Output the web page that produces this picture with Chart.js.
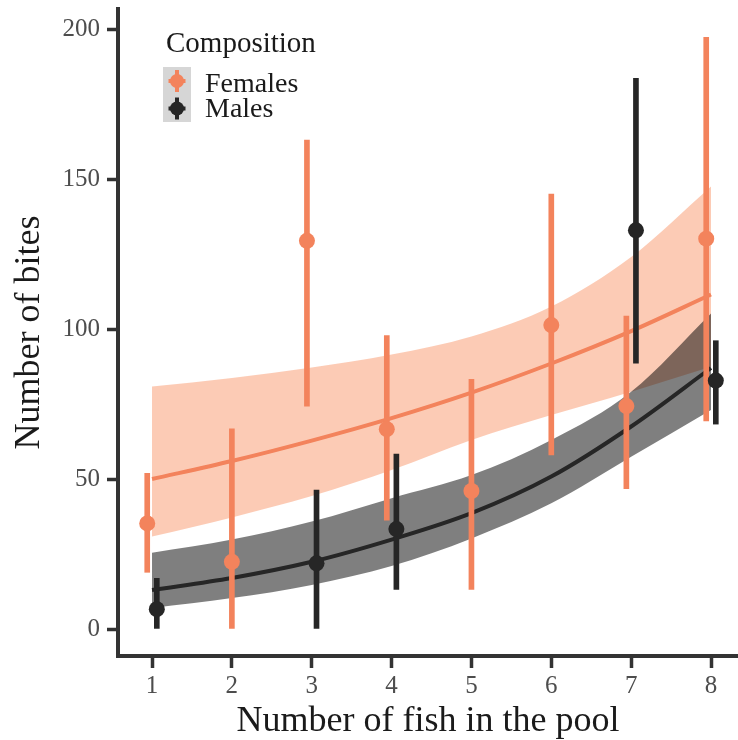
<!DOCTYPE html>
<html>
<head>
<meta charset="utf-8">
<script src="https://cdn.jsdelivr.net/npm/chart.js@4.4.1/dist/chart.umd.min.js"></script>
<style>
  html, body { margin: 0; padding: 0; background: #fff; }
  canvas { display: block; }
</style>
</head>
<body>
<canvas id="biteChart" width="738" height="740"></canvas>
<script>
// fish in the pool (x) and the y ticks
const fishCounts = [1, 2, 3, 4, 5, 6, 7, 8];
const yTickValues = [0, 50, 100, 150, 200];
const groupNames = ['Females', 'Males'];

// female pools: mean bites and interval ends
const femaleFish = [1, 2, 3, 4, 5, 6, 7, 8];
const femaleBites = [35.2, 22.4, 129.4, 66.6, 46, 101.3, 74.3, 130.1];
const femaleLow = [18.9, 0.2, 74.3, 36.3, 13.2, 58, 46.8, 69.4];
const femaleHigh = [51.9, 66.7, 163, 97.8, 83.2, 145, 104.3, 197.2];

// male pools
const maleFish = [1, 3, 4, 7, 8];
const maleBites = [6.6, 21.9, 33.3, 132.9, 82.8];
const maleLow = [0.2, 0.2, 13.2, 88.6, 68.3];
const maleHigh = [16.9, 46.3, 58.3, 183.6, 96.1];

// fitted curves and their bands, read at each fish count
const femaleFit = [50, 56, 62.8, 70.3, 78.8, 88.5, 99.3, 111.5];
const femaleFitLow = [30.8, 37.2, 44.3, 53, 63, 71.3, 79.1, 87.4];
const femaleFitHigh = [80.8, 83.7, 87.2, 91.5, 97.5, 107.5, 124, 147.5];
const maleFit = [13, 17, 22.4, 29.8, 38.6, 50.8, 67.5, 87];
const maleFitLow = [7, 10.3, 14.7, 21, 30.2, 41.9, 57.4, 73];
const maleFitHigh = [25.4, 29.8, 35.8, 43.6, 51.3, 63, 79.1, 105.2];

const ORANGE = '#f3835c';
const DARK = '#262626';
const AXIS = '#333333';

// dodge only where both groups were measured
const dodge = 0.06;
const shared = femaleFish.filter(x => maleFish.includes(x));
const fShift = x => shared.includes(x) ? x - dodge : x;
const mShift = x => shared.includes(x) ? x + dodge : x;

const points = (xs, ys, shift) => xs.map((x, i) => ({ x: shift(x), y: ys[i] }));
const ranges = (xs, lo, hi, shift) => xs.map((x, i) => ({ x: shift(x), y: [lo[i], hi[i]] }));
const curve = ys => fishCounts.map((x, i) => ({ x: x, y: ys[i] }));

Chart.defaults.font.family = '"Liberation Serif", "Times New Roman", serif';

// legend drawn inside the plot, top left
const keyLegend = {
  id: 'keyLegend',
  afterDraw(chart) {
    const ctx = chart.ctx;
    ctx.save();
    ctx.textBaseline = 'alphabetic';
    ctx.fillStyle = '#1a1a1a';
    ctx.font = '29px "Liberation Serif"';
    ctx.fillText('Composition', 166, 52);
    ctx.font = '28px "Liberation Serif"';
    ctx.fillStyle = '#d6d6d6';
    ctx.fillRect(163, 67, 28, 55);
    [ORANGE, DARK].forEach((c, i) => {
      const cx = 177, cy = 81 + i * 27.5;
      ctx.strokeStyle = c;
      ctx.lineWidth = 4;
      ctx.beginPath();
      ctx.moveTo(cx - 8.5, cy); ctx.lineTo(cx + 8.5, cy);
      ctx.moveTo(cx, cy - 11); ctx.lineTo(cx, cy + 11);
      ctx.stroke();
      ctx.fillStyle = c;
      ctx.beginPath();
      ctx.arc(cx, cy, 7, 0, Math.PI * 2);
      ctx.fill();
      ctx.fillStyle = '#1a1a1a';
      ctx.fillText(groupNames[i], 205, 91.5 + i * 25.5);
    });
    ctx.restore();
  }
};

new Chart(document.getElementById('biteChart'), {
  type: 'scatter',
  data: {
    datasets: [
      { type: 'line', label: 'fband', data: curve(femaleFitHigh), fill: '+1', backgroundColor: 'rgba(250,160,120,0.55)',
        borderWidth: 0, pointRadius: 0, cubicInterpolationMode: 'monotone', order: 10 },
      { type: 'line', label: 'fbandlow', data: curve(femaleFitLow), fill: false,
        borderWidth: 0, pointRadius: 0, cubicInterpolationMode: 'monotone', order: 10 },
      { type: 'line', label: 'mband', data: curve(maleFitHigh), fill: '+1', backgroundColor: 'rgba(0,0,0,0.5)',
        borderWidth: 0, pointRadius: 0, cubicInterpolationMode: 'monotone', order: 8 },
      { type: 'line', label: 'mbandlow', data: curve(maleFitLow), fill: false,
        borderWidth: 0, pointRadius: 0, cubicInterpolationMode: 'monotone', order: 8 },
      { type: 'line', label: 'ffit', data: curve(femaleFit), borderColor: ORANGE, borderWidth: 4,
        pointRadius: 0, fill: false, cubicInterpolationMode: 'monotone', order: 9 },
      { type: 'line', label: 'mfit', data: curve(maleFit), borderColor: DARK, borderWidth: 4,
        pointRadius: 0, fill: false, cubicInterpolationMode: 'monotone', order: 7 },
      { type: 'bar', label: 'frange', data: ranges(femaleFish, femaleLow, femaleHigh, fShift),
        backgroundColor: ORANGE, borderWidth: 0, barThickness: 5, grouped: false, order: 4 },
      { type: 'scatter', label: groupNames[0], data: points(femaleFish, femaleBites, fShift),
        pointRadius: 8, pointHoverRadius: 8, pointBackgroundColor: ORANGE, pointBorderWidth: 0, order: 3 },
      { type: 'bar', label: 'mrange', data: ranges(maleFish, maleLow, maleHigh, mShift),
        backgroundColor: DARK, borderWidth: 0, barThickness: 5, grouped: false, order: 2 },
      { type: 'scatter', label: groupNames[1], data: points(maleFish, maleBites, mShift),
        pointRadius: 8, pointHoverRadius: 8, pointBackgroundColor: DARK, pointBorderWidth: 0, order: 1 }
    ]
  },
  options: {
    responsive: false,
    devicePixelRatio: 1,
    animation: false,
    layout: { autoPadding: false, padding: { top: 9, right: 0, bottom: 0, left: 0 } },
    plugins: { legend: { display: false }, tooltip: { enabled: false } },
    scales: {
      x: {
        type: 'linear', min: 0.574, max: 8.338, offset: false,
        afterBuildTicks: s => { s.ticks = fishCounts.map(v => ({ value: v })); },
        afterFit: s => { s.height = 84; s.paddingLeft = 0; s.paddingRight = 0; },
        grid: { offset: false, drawOnChartArea: false, tickLength: 12, tickWidth: 3.5, tickColor: AXIS },
        border: { display: true, color: AXIS, width: 4 },
        ticks: { color: '#4d4d4d', font: { size: 25 }, padding: 3, maxRotation: 0 },
        title: { display: true, text: 'Number of fish in the pool', color: '#1a1a1a',
          font: { size: 36, lineHeight: 1 }, padding: { top: 0, bottom: 0 } }
      },
      y: {
        type: 'linear', min: -9, max: 206.67,
        afterBuildTicks: s => { s.ticks = yTickValues.map(v => ({ value: v })); },
        afterFit: s => { s.width = 118; s.paddingTop = 0; s.paddingBottom = 0; },
        grid: { offset: false, drawOnChartArea: false, tickLength: 11, tickWidth: 3.5, tickColor: AXIS },
        border: { display: true, color: AXIS, width: 4 },
        ticks: { color: '#4d4d4d', font: { size: 25 }, padding: 7 },
        title: { display: true, text: 'Number of bites', color: '#1a1a1a',
          font: { size: 36, lineHeight: 1 }, padding: { top: 12, bottom: 0 } }
      }
    }
  },
  plugins: [keyLegend]
});
</script>
</body>
</html>
